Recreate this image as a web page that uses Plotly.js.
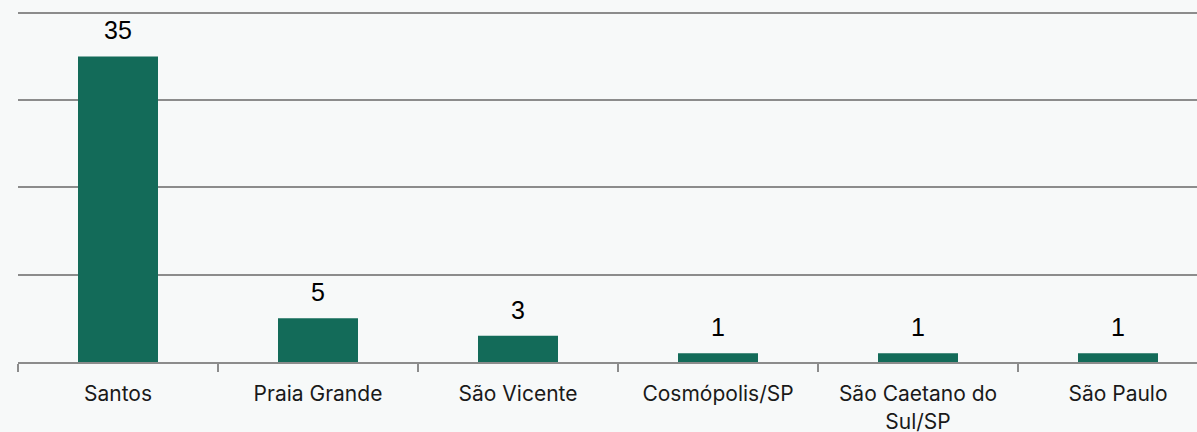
<!DOCTYPE html>
<html>
<head>
<meta charset="utf-8">
<script src="https://cdn.plot.ly/plotly-3.0.1.min.js"></script>
<style>
html,body{margin:0;padding:0;overflow:hidden;background:#F7F9F9;}
#chart{width:1230px;height:432px;}
</style>
</head>
<body>
<div id="chart"></div>
<script>
const categories = ["Santos", "Praia Grande", "São Vicente", "Cosmópolis/SP", "São Caetano do<br>Sul/SP", "São Paulo"];
const values = [35, 5, 3, 1, 1, 1];
const valueLabels = ["35", "5", "3", "1", "1", "1"];
const gridValues = [10, 20, 30, 40];

const trace = {
  type: 'bar',
  x: categories,
  y: values,
  marker: {color: '#136B59'},
  width: 0.4,
  hoverinfo: 'none'
};

const annotations = categories.map((c, i) => ({
  x: c, y: values[i], text: valueLabels[i],
  xref: 'x', yref: 'y', showarrow: false,
  yanchor: 'bottom', yshift: 10,
  font: {family: 'Liberation Sans, Arial, sans-serif', size: 25, color: '#000000'}
}));

const layout = {
  width: 1230, height: 432,
  margin: {l: 18, r: 12, t: 4, b: 70},
  paper_bgcolor: '#F7F9F9', plot_bgcolor: '#F7F9F9',
  showlegend: false,
  xaxis: {
    type: 'category',
    tickson: 'boundaries',
    ticks: 'outside', ticklen: 8, tickwidth: 2, tickcolor: '#8C8C8C',
    showline: true, linecolor: '#8C8C8C', linewidth: 2,
    showgrid: false,
    tickfont: {family: 'Inter, Noto Sans, sans-serif', size: 21, color: '#1A1A1A'},
    ticklabelstandoff: 12
  },
  yaxis: {
    range: [0, 41], tickvals: gridValues,
    showgrid: true, gridcolor: '#8C8C8C', gridwidth: 2,
    showticklabels: false, zeroline: false, ticks: ''
  },
  annotations: annotations
};

Plotly.newPlot('chart', [trace], layout, {displayModeBar: false, staticPlot: true});
</script>
</body>
</html>
